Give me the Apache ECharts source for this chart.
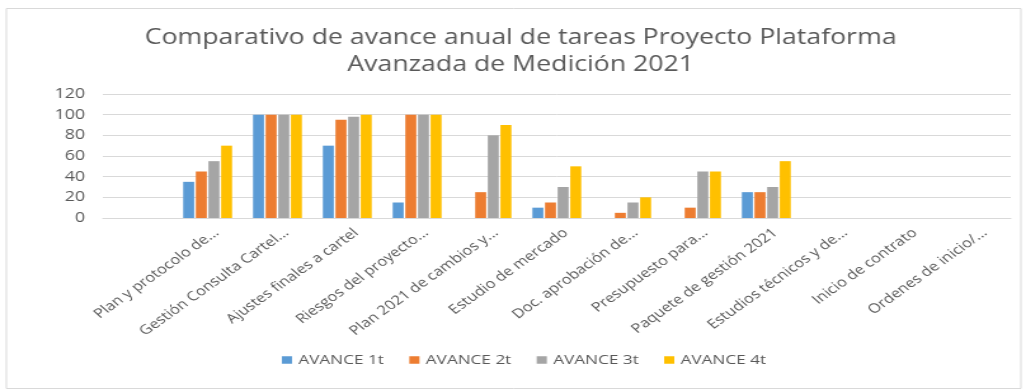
<!DOCTYPE html>
<html>
<head>
<meta charset="utf-8">
<script src="https://cdn.jsdelivr.net/npm/echarts@6/dist/echarts.min.js"></script>
<style>
  html, body { margin: 0; padding: 0; background: #fff; }
  #wrap { width: 1026px; height: 389px; overflow: hidden; }
  /* The chart is laid out on a narrower canvas and widened horizontally,
     which gives the broad, stretched lettering of the report graphic. */
  #chart { width: 808px; height: 389px; transform: scaleX(1.2698); transform-origin: 0 0; }
</style>
</head>
<body>
<div id="wrap"><div id="chart"></div></div>
<script>
// Task names (first slot is an unlabelled, empty category)
const categories = [
  '',
  'Plan y protocolo de...',
  'Gestión Consulta Cartel...',
  'Ajustes finales a cartel',
  'Riesgos del proyecto...',
  'Plan 2021 de cambios y...',
  'Estudio de mercado',
  'Doc. aprobación de...',
  'Presupuesto para...',
  'Paquete de gestión 2021',
  'Estudios técnicos y de...',
  'Inicio de contrato',
  'Ordenes de inicio/...'
];

// Quarterly progress (%) per task
const avance1t = [0, 35, 100, 70, 15, 0, 10, 0, 0, 25, 0, 0, 0];
const avance2t = [0, 45, 100, 95, 100, 25, 15, 5, 10, 25, 0, 0, 0];
const avance3t = [0, 55, 100, 98, 100, 80, 30, 15, 45, 30, 0, 0, 0];
const avance4t = [0, 70, 100, 100, 100, 90, 50, 20, 45, 55, 0, 0, 0];

const seriesNames = ['AVANCE 1t', 'AVANCE 2t', 'AVANCE 3t', 'AVANCE 4t'];
const seriesColors = ['#5B9BD5', '#ED7D31', '#A5A5A5', '#FFC000'];

const yMin = 0, yMax = 120, yStep = 20;

const font = '"Open Sans", "Noto Sans", sans-serif';
const textColor = '#595959';

const chart = echarts.init(document.getElementById('chart'), null, { renderer: 'canvas' });

const seriesData = [avance1t, avance2t, avance3t, avance4t];

// Plot area, plus a second band of equal width nudged right that only carries the
// slanted category names, so their ends sit just past each group's centre.
const plotLeft = 81, plotRight = 12, plotTop = 94, plotBottom = 171;
const labelShift = 7;

chart.setOption({
  animation: false,
  backgroundColor: '#ffffff',
  textStyle: { fontFamily: font },
  title: {
    text: 'Comparativo de avance anual de tareas Proyecto Plataforma\nAvanzada de Medición 2021',
    left: 405,
    top: 20,
    textAlign: 'center',
    textStyle: {
      fontFamily: font,
      fontSize: 21,
      fontWeight: 'normal',
      color: '#595959',
      lineHeight: 27
    }
  },
  graphic: [{
    type: 'rect',
    shape: { x: 5, y: 8.5, width: 799, height: 380 },
    style: { fill: 'none', stroke: '#d9d9d9', lineWidth: 1 },
    silent: true
  }],
  legend: {
    bottom: 17,
    left: 217,
    itemWidth: 8,
    itemHeight: 7.5,
    itemGap: 20,
    icon: 'rect',
    textStyle: { fontFamily: font, fontSize: 13.5, color: textColor },
    data: seriesNames
  },
  grid: [
    { left: plotLeft, right: plotRight, top: plotTop, bottom: plotBottom, containLabel: false },
    { left: plotLeft + labelShift, right: plotRight - labelShift, top: plotTop, bottom: plotBottom, containLabel: false }
  ],
  xAxis: [
    {
      type: 'category',
      gridIndex: 0,
      data: categories,
      axisTick: { show: false },
      axisLine: { lineStyle: { color: '#d9d9d9', width: 1 } },
      axisLabel: { show: false }
    },
    {
      type: 'category',
      gridIndex: 1,
      data: categories,
      axisTick: { show: false },
      axisLine: { show: false },
      axisLabel: {
        interval: 0,
        rotate: 42,
        margin: 13,
        fontFamily: font,
        fontSize: 13,
        color: textColor
      }
    }
  ],
  yAxis: [
    {
      type: 'value',
      gridIndex: 0,
      min: yMin,
      max: yMax,
      interval: yStep,
      axisLine: { show: false },
      axisTick: { show: false },
      axisLabel: {
        margin: 14,
        fontFamily: font,
        fontSize: 14,
        color: textColor
      },
      splitLine: { lineStyle: { color: '#d9d9d9', width: 1 } }
    },
    {
      type: 'value',
      gridIndex: 1,
      min: yMin,
      max: yMax,
      interval: yStep,
      show: false
    }
  ],
  series: seriesNames.map((name, i) => ({
    name: name,
    type: 'bar',
    xAxisIndex: 0,
    yAxisIndex: 0,
    data: seriesData[i],
    itemStyle: { color: seriesColors[i] },
    barGap: '15%',
    barCategoryGap: '30%'
  }))
});
</script>
</body>
</html>
